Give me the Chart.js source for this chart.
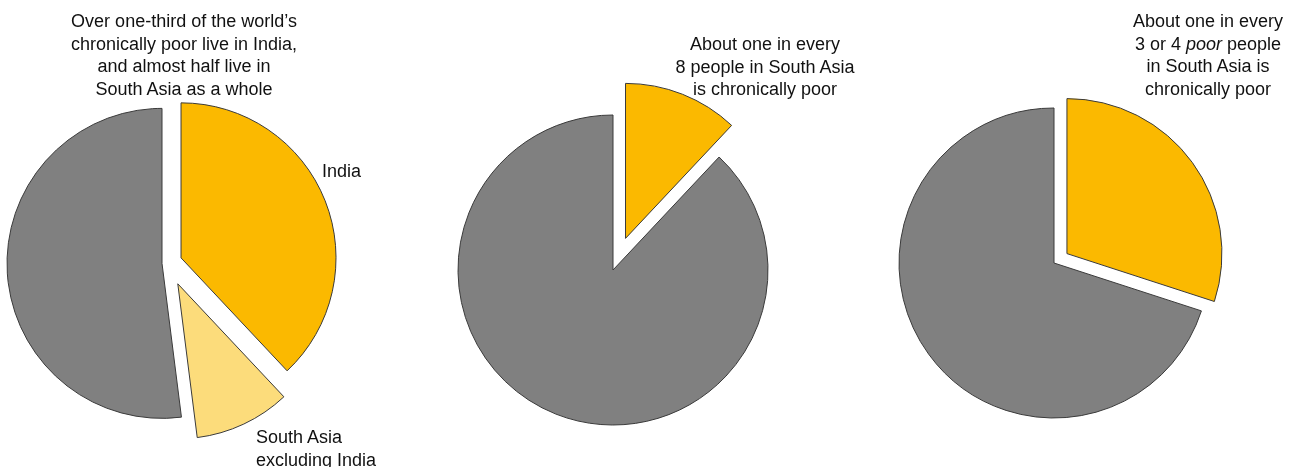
<!DOCTYPE html>
<html>
<head>
<meta charset="utf-8">
<script src="https://cdn.jsdelivr.net/npm/chart.js@4"></script>
<style>
  html, body { margin: 0; padding: 0; background: #fff; }
  body { width: 1297px; height: 467px; position: relative; overflow: hidden;
         font-family: "Liberation Sans", Arial, sans-serif; font-size: 18px; color: #111; }
  canvas { position: absolute; }
  .note { position: absolute; line-height: 22.5px; white-space: nowrap; z-index: 2; }
  .center { text-align: center; }
</style>
</head>
<body>
<canvas id="pie1" width="420" height="420" style="left:-42px;top:53px"></canvas>
<canvas id="pie2" width="420" height="420" style="left:403px;top:60px"></canvas>
<canvas id="pie3" width="420" height="420" style="left:844px;top:53px"></canvas>

<div class="note center" style="left:34px;top:10px;width:300px">Over one-third of the world’s<br>chronically poor live in India,<br>and almost half live in<br>South Asia as a whole</div>
<div class="note" style="left:322px;top:160px">India</div>
<div class="note" style="left:256px;top:426px">South Asia<br>excluding India</div>
<div class="note center" style="left:615px;top:33px;width:300px">About one in every<br>8 people in South Asia<br>is chronically poor</div>
<div class="note center" style="left:1058px;top:10px;width:300px">About one in every<br>3 or 4 <i>poor</i> people<br>in South Asia is<br>chronically poor</div>

<script>
// Share of the world's chronically poor (%)
const worldLabels = ["India", "South Asia excluding India", "Rest of the world"];
const worldValues = [38, 10, 52];

// Share of all people in South Asia (%)
const peopleLabels = ["Chronically poor", "Other people"];
const peopleValues = [12, 88];

// Share of poor people in South Asia (%)
const poorLabels = ["Chronically poor", "Other poor"];
const poorValues = [30, 70];

const YELLOW = "#FBB900";
const LIGHT_YELLOW = "#FCDC7B";
const GREY = "#808080";

// move each slice out along its middle angle (like an exploded pie)
const explodePlugin = {
    id: "explode",
    afterDatasetsUpdate(chart, args, opts) {
        const meta = chart.getDatasetMeta(0);
        meta.data.forEach((arc, i) => {
            const d = (opts.distances || [])[i] || 0;
            const mid = (arc.startAngle + arc.endAngle) / 2;
            arc.x += Math.cos(mid) * d;
            arc.y += Math.sin(mid) * d;
        });
    }
};

function makePie(id, labels, values, colors, distances) {
    return new Chart(document.getElementById(id), {
        type: "pie",
        data: {
            labels: labels,
            datasets: [{
                data: values,
                backgroundColor: colors,
                borderColor: "#3a3a3a",
                borderWidth: 1,
                hoverOffset: 0,
                radius: 155
            }]
        },
        options: {
            responsive: false,
            animation: false,
            events: [],
            layout: { padding: 0 },
            plugins: {
                legend: { display: false },
                tooltip: { enabled: false },
                explode: { distances: distances }
            }
        },
        plugins: [explodePlugin]
    });
}

makePie("pie1", worldLabels, worldValues, [YELLOW, LIGHT_YELLOW, GREY], [14, 23, 6]);
makePie("pie2", peopleLabels, peopleValues, [YELLOW, GREY], [34, 0]);
makePie("pie3", poorLabels, poorValues, [YELLOW, GREY], [16, 0]);
</script>
</body>
</html>
